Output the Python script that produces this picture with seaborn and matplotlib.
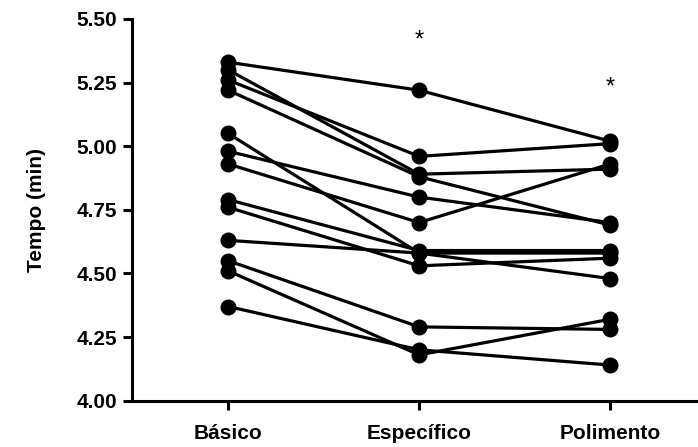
import pandas as pd
import matplotlib
matplotlib.use("Agg")
import matplotlib.pyplot as plt
import seaborn as sns

# tempos por participante (min)
etapas = ["Básico", "Específico", "Polimento"]
basico = [5.33, 5.30, 5.26, 5.22, 5.05, 4.98, 4.93, 4.79, 4.76, 4.63, 4.55, 4.51, 4.37]
especifico = [5.22, 4.89, 4.96, 4.88, 4.58, 4.80, 4.70, 4.59, 4.53, 4.58, 4.29, 4.18, 4.20]
polimento = [5.02, 4.91, 5.01, 4.69, 4.48, 4.70, 4.93, 4.59, 4.56, 4.58, 4.28, 4.32, 4.14]
asteriscos = {"Específico": 5.417, "Polimento": 5.232}

linhas = []
for i in range(len(basico)):
    for etapa, valores in zip(etapas, [basico, especifico, polimento]):
        linhas.append({"sujeito": i, "etapa": etapa, "tempo": valores[i]})
df = pd.DataFrame(linhas)

sns.set_style("ticks")
plt.rcParams["font.family"] = ["Liberation Sans", "DejaVu Sans"]
plt.rcParams["font.weight"] = "bold"
plt.rcParams["text.color"] = "black"

fig = plt.figure(figsize=(6.98, 4.47), dpi=100)
ax = fig.add_axes([0.1887, 0.1036, 0.8113, 0.854])

sns.lineplot(data=df, x="etapa", y="tempo", units="sujeito", estimator=None,
             color="black", linewidth=2.3, marker="o", markersize=11.5,
             markeredgewidth=0, sort=False, ax=ax)

for etapa, y in asteriscos.items():
    ax.text(etapas.index(etapa), y, "*", ha="center", va="center",
            fontsize=17, fontweight="normal", color="black")

ax.set_xlim(-0.505, 2.46)
ax.set_ylim(4.0, 5.5)
ax.set_yticks([4.00, 4.25, 4.50, 4.75, 5.00, 5.25, 5.50])
ax.set_yticklabels([f"{v:.2f}" for v in [4.00, 4.25, 4.50, 4.75, 5.00, 5.25, 5.50]])
ax.set_xlabel("")
ax.set_ylabel("Tempo (min)", fontsize=15, fontweight="bold", labelpad=22,
              color="black")

for lab in ax.get_xticklabels() + ax.get_yticklabels():
    lab.set_fontweight("bold")
    lab.set_fontsize(15)
    lab.set_color("black")

sns.despine(ax=ax)
ax.spines["left"].set_linewidth(2.2)
ax.spines["bottom"].set_linewidth(2.2)
ax.spines["left"].set_color("black")
ax.spines["bottom"].set_color("black")
ax.tick_params(width=2.2, length=6.5, direction="out", color="black")
ax.tick_params(axis="x", pad=10)
ax.tick_params(axis="y", pad=4)

fig.savefig("out.png", dpi=100)
